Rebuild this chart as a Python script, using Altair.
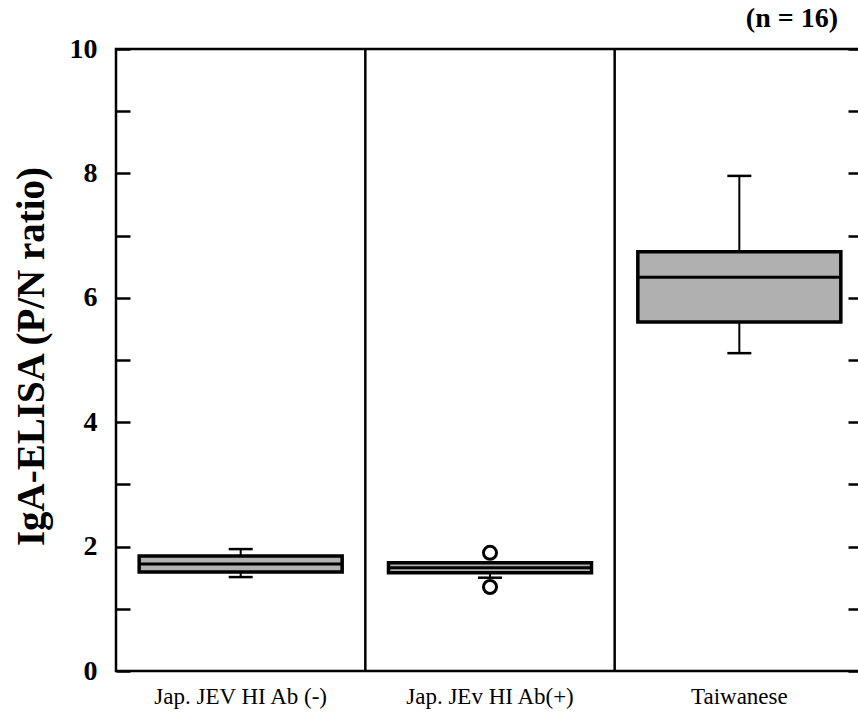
import altair as alt
import pandas as pd

# ---- data ----
categories = ["Jap. JEV HI Ab (-)", "Jap. JEv HI Ab(+)", "Taiwanese"]
whisker_low = [1.51, 1.50, 5.11]
q1 = [1.59, 1.58, 5.61]
median = [1.72, 1.66, 6.33]
q3 = [1.85, 1.74, 6.74]
whisker_high = [1.96, 1.74, 7.96]
outlier_group = ["Jap. JEv HI Ab(+)", "Jap. JEv HI Ab(+)"]
outlier_value = [1.90, 1.35]
y_tick_values = [0, 1, 2, 3, 4, 5, 6, 7, 8, 9, 10]
n_label = "(n = 16)"
y_title = "IgA-ELISA (P/N ratio)"

FONT = "Liberation Serif"

box_df = pd.DataFrame({
    "group": categories,
    "lo": whisker_low,
    "q1": q1,
    "med": median,
    "q3": q3,
    "hi": whisker_high,
})
out_df = pd.DataFrame({"group": outlier_group, "value": outlier_value})
div_df = pd.DataFrame({"group": categories[1:]})

xscale = alt.Scale(domain=categories, paddingInner=0, paddingOuter=0)
yscale = alt.Scale(domain=[0, 10], nice=False, zero=False)

x_axis = alt.Axis(orient="bottom", domain=False, ticks=False, labelAngle=0,
                  labelFont=FONT, labelFontSize=23, labelColor="black",
                  labelPadding=14, title=None)
x_enc = alt.X("group:N", scale=xscale, sort=categories, axis=x_axis)

base = alt.Chart(box_df)

boxes = base.mark_bar(size=203, fill="#b0b0b0", stroke="black", strokeWidth=3.5).encode(
    x=x_enc,
    y=alt.Y("q1:Q", scale=yscale,
            axis=alt.Axis(orient="left", values=y_tick_values, offset=-14, tickSize=14,
                          tickWidth=2.5, tickColor="black", domain=False, grid=False,
                          labelExpr="datum.value % 2 == 0 ? datum.label : ''",
                          labelFont=FONT, labelFontSize=28, labelFontWeight="bold",
                          labelColor="black", labelPadding=19,
                          title=y_title, titleFont=FONT, titleFontSize=39,
                          titleFontWeight="bold", titleColor="black",
                          titleX=-99, titleY=307, titleAngle=-90,
                          titleAlign="center", titleBaseline="middle")),
    y2="q3:Q",
)

med = base.mark_tick(size=203, thickness=3, color="black", opacity=1).encode(
    x=x_enc, y=alt.Y("med:Q", scale=yscale, axis=None)
)

upper = base.mark_rule(strokeWidth=2, color="black").encode(
    x=x_enc,
    y=alt.Y("q3:Q", scale=yscale,
            axis=alt.Axis(orient="right", values=y_tick_values, offset=-16, tickSize=16,
                          tickWidth=2.5, tickColor="black", domain=False, grid=False,
                          labels=False, title=None)),
    y2="hi:Q",
)
lower = base.mark_rule(strokeWidth=2, color="black").encode(
    x=x_enc, y=alt.Y("lo:Q", scale=yscale, axis=None), y2="q1:Q"
)
cap_hi = base.mark_tick(size=24, thickness=2.5, color="black", opacity=1).encode(
    x=x_enc, y=alt.Y("hi:Q", scale=yscale, axis=None)
)
cap_lo = base.mark_tick(size=24, thickness=2.5, color="black", opacity=1).encode(
    x=x_enc, y=alt.Y("lo:Q", scale=yscale, axis=None)
)

outliers = alt.Chart(out_df).mark_point(
    shape="circle", filled=False, size=170, strokeWidth=3, color="black", opacity=1
).encode(x=x_enc, y=alt.Y("value:Q", scale=yscale, axis=None))

dividers = alt.Chart(div_df).mark_rule(strokeWidth=2.5, color="black").encode(
    x=alt.X("group:N", scale=xscale, sort=categories, axis=x_axis, bandPosition=0)
)

chart = alt.layer(
    boxes, med, upper, lower, cap_hi, cap_lo, outliers, dividers
).resolve_axis(y="independent").properties(
    width=748,
    height=622,
    autosize=alt.AutoSizeParams(type="none"),
    padding={"left": 116, "top": 49, "right": -6, "bottom": 47},
    background="white",
    title=alt.TitleParams(n_label, anchor="end", frame="group", font=FONT,
                          fontSize=28, fontWeight="bold", color="black",
                          dx=-26, offset=2),
).configure_view(
    stroke="black", strokeWidth=2.5
).configure_axisX(
    labelFont=FONT, labelFontSize=23, labelColor="black", labelPadding=14
)

chart.save("out.html", embed_options={"renderer": "svg", "actions": False})
